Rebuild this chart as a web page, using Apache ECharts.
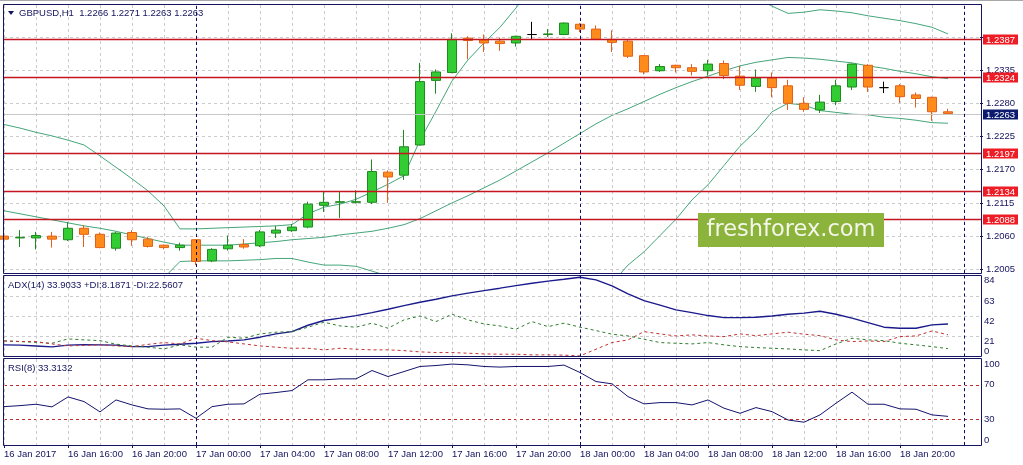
<!DOCTYPE html>
<html>
<head>
<meta charset="utf-8">
<title>GBPUSD,H1</title>
<script src="https://cdn.jsdelivr.net/npm/echarts@6/dist/echarts.min.js"></script>
<style>
html, body { margin: 0; padding: 0; background: #fff; }
#main { width: 1023px; height: 465px; }
</style>
</head>
<body>
<div id="main"></div>
<script>
// GBPUSD H1 bars, 16 Jan 2017 12:00 .. 18 Jan 2017 23:00
var opens = [
  1.2060, 1.2057, 1.2057, 1.2060, 1.2054, 1.2073, 1.2063, 1.2040, 1.2066, 1.2055,
  1.2045, 1.2041, 1.2054, 1.2019, 1.2039, 1.2046, 1.2044, 1.2065, 1.2069, 1.2075,
  1.2111, 1.2116, 1.2116, 1.2116, 1.2166, 1.2161, 1.2211, 1.2318, 1.2331, 1.2388,
  1.2385, 1.2383, 1.2380, 1.2394, 1.2394, 1.2394, 1.2411, 1.2403, 1.2386, 1.2383,
  1.2359, 1.2334, 1.2343, 1.2339, 1.2334, 1.2346, 1.2325, 1.2308, 1.2322, 1.2309,
  1.2280, 1.2269, 1.2283, 1.2307, 1.2343, 1.2306, 1.2309, 1.2294, 1.2290, 1.2266
];
var closes = [
  1.2055, 1.2058, 1.2061, 1.2055, 1.2073, 1.2063, 1.2041, 1.2065, 1.2054, 1.2043,
  1.2041, 1.2045, 1.2018, 1.2038, 1.2045, 1.2042, 1.2067, 1.2070, 1.2075, 1.2113,
  1.2116, 1.2117, 1.2117, 1.2167, 1.2158, 1.2208, 1.2316, 1.2332, 1.2386, 1.2384,
  1.2380, 1.2379, 1.2391, 1.2394, 1.2395, 1.2413, 1.2403, 1.2386, 1.2381, 1.2358,
  1.2332, 1.2341, 1.2339, 1.2333, 1.2345, 1.2326, 1.2310, 1.2322, 1.2306, 1.2280,
  1.2270, 1.2282, 1.2309, 1.2345, 1.2307, 1.2306, 1.2291, 1.2288, 1.2266, 1.2263
];
var lows = [
  1.2035, 1.2042, 1.2038, 1.2041, 1.2052, 1.2042, 1.2040, 1.2036, 1.2044, 1.2041,
  1.2038, 1.2036, 1.2012, 1.2017, 1.2036, 1.2039, 1.2042, 1.2057, 1.2067, 1.2073,
  1.2100, 1.2090, 1.2114, 1.2113, 1.2115, 1.2153, 1.2210, 1.2296, 1.2330, 1.2353,
  1.2365, 1.2367, 1.2374, 1.2386, 1.2390, 1.2393, 1.2398, 1.2385, 1.2365, 1.2355,
  1.2328, 1.2332, 1.2331, 1.2326, 1.2326, 1.2320, 1.2302, 1.2299, 1.2290, 1.2269,
  1.2266, 1.2264, 1.2277, 1.2302, 1.2299, 1.2297, 1.2281, 1.2273, 1.2251, 1.2263
];
var highs = [
  1.2063, 1.2070, 1.2067, 1.2067, 1.2083, 1.2078, 1.2066, 1.2067, 1.2070, 1.2059,
  1.2046, 1.2049, 1.2055, 1.2040, 1.2061, 1.2055, 1.2070, 1.2077, 1.2080, 1.2117,
  1.2134, 1.2134, 1.2136, 1.2187, 1.2169, 1.2236, 1.2347, 1.2336, 1.2396, 1.2391,
  1.2394, 1.2389, 1.2392, 1.2415, 1.2403, 1.2414, 1.2413, 1.2409, 1.2401, 1.2386,
  1.2360, 1.2345, 1.2344, 1.2345, 1.2352, 1.2351, 1.2342, 1.2336, 1.2331, 1.2319,
  1.2290, 1.2294, 1.2319, 1.2346, 1.2345, 1.2316, 1.2312, 1.2298, 1.2291, 1.2271
];

// Bollinger bands
var bbUpper = [
  1.2245, 1.2239, 1.2232, 1.2226, 1.2219, 1.2211, 1.2193, 1.2174, 1.2155, 1.2135,
  1.2110, 1.2072, 1.2072, 1.2073, 1.2074, 1.2075, 1.2076, 1.2077, 1.2079, 1.2097,
  1.2108, 1.2113, 1.2121, 1.2133, 1.2146, 1.2160, 1.2219, 1.2267, 1.2317, 1.2352,
  1.2380, 1.2406, 1.2438, 1.2471, 1.2493, 1.2506, 1.2514, 1.2517, 1.2517, 1.2516,
  1.2512, 1.2507, 1.2502, 1.2496, 1.2488, 1.2478, 1.2468, 1.2454, 1.2441, 1.2429,
  1.2431, 1.2435, 1.2433, 1.2430, 1.2425, 1.2421, 1.2417, 1.2412, 1.2406, 1.2395
];
var bbMiddle = [
  1.2102, 1.2097, 1.2092, 1.2087, 1.2082, 1.2077, 1.2073, 1.2068, 1.2062, 1.2056,
  1.2050, 1.2045, 1.2045, 1.2045, 1.2045, 1.2047, 1.2049, 1.2051, 1.2054, 1.2056,
  1.2058, 1.2062, 1.2065, 1.2068, 1.2073, 1.2079, 1.2089, 1.2102, 1.2115, 1.2127,
  1.2140, 1.2153, 1.2168, 1.2183, 1.2198, 1.2214, 1.2230, 1.2246, 1.2260, 1.2271,
  1.2283, 1.2295, 1.2306, 1.2316, 1.2325, 1.2334, 1.2342, 1.2348, 1.2352, 1.2356,
  1.2355, 1.2353, 1.2350, 1.2347, 1.2342, 1.2338, 1.2333, 1.2329, 1.2324, 1.2321
];
var bbLower = [
  1.1959, 1.1954, 1.1951, 1.1947, 1.1944, 1.1942, 1.1952, 1.1961, 1.1969, 1.1977,
  1.1991, 1.2018, 1.2019, 1.2019, 1.2019, 1.2020, 1.2021, 1.2023, 1.2023, 1.2017,
  1.2012, 1.2012, 1.2010, 1.2002, 1.1994, 1.1987, 1.1959, 1.1936, 1.1913, 1.1903,
  1.1899, 1.1899, 1.1898, 1.1894, 1.1903, 1.1923, 1.1946, 1.1962, 1.1982, 1.2012,
  1.2034, 1.2061, 1.2088, 1.2120, 1.2145, 1.2177, 1.2209, 1.2234, 1.2266, 1.2280,
  1.2277, 1.2268, 1.2265, 1.2262, 1.2261, 1.2257, 1.2255, 1.2252, 1.2248, 1.2247
];

// ADX(14)
var adx = [
  12.1, 11.8, 11.0, 10.0, 11.8, 12.4, 12.1, 11.8, 10.3, 10.3,
  11.8, 12.8, 13.8, 15.5, 16.2, 17.3, 20.1, 23.5, 25.9, 32.5,
  37.5, 39.9, 42.6, 45.7, 49.2, 53.0, 56.5, 59.6, 63.1, 65.9,
  68.6, 71.1, 73.8, 76.3, 78.4, 80.4, 82.5, 79.7, 73.5, 65.1,
  58.2, 53.4, 48.5, 45.7, 42.6, 40.5, 40.5, 40.9, 42.2, 44.0,
  45.1, 47.1, 44.0, 39.9, 35.3, 30.5, 29.4, 29.4, 32.9, 33.9
];
var plusDI = [
  16.2, 15.5, 14.7, 13.8, 18.3, 17.3, 16.5, 12.8, 11.0, 9.7,
  7.9, 12.1, 9.7, 9.7, 20.1, 19.0, 23.5, 25.3, 25.9, 30.5,
  35.7, 31.8, 30.5, 34.7, 29.4, 38.1, 42.2, 36.3, 44.0, 38.1,
  33.9, 31.8, 28.4, 36.3, 31.1, 34.7, 30.5, 27.0, 23.2, 21.4,
  18.0, 14.5, 13.8, 13.1, 14.5, 12.1, 10.3, 9.3, 8.6, 7.9,
  6.9, 6.1, 13.1, 19.0, 17.3, 16.5, 13.8, 12.1, 10.3, 8.2
];
var minusDI = [
  16.2, 15.7, 15.5, 13.1, 11.0, 11.6, 12.1, 11.0, 10.3, 12.6,
  14.5, 13.1, 19.0, 16.5, 15.2, 13.1, 11.0, 9.7, 8.6, 8.6,
  6.9, 8.6, 7.6, 6.9, 6.9, 6.1, 4.8, 4.1, 4.1, 3.4,
  2.7, 2.4, 2.4, 1.7, 1.7, 1.4, 0.6, 7.6, 14.5, 17.3,
  25.9, 23.5, 21.4, 22.5, 21.4, 20.7, 23.5, 21.7, 23.5, 25.3,
  23.2, 21.7, 17.3, 15.5, 16.2, 15.5, 20.7, 21.4, 26.6, 22.6
];

// RSI(8)
var rsi = [
  44.6, 45.8, 47.4, 44.3, 55.9, 50.5, 38.5, 52.4, 46.6, 42.0,
  41.6, 42.0, 31.1, 44.6, 47.4, 47.8, 59.1, 61.0, 63.3, 75.8,
  75.8, 76.9, 76.9, 86.6, 79.6, 85.4, 91.3, 92.4, 94.1, 93.2,
  91.3, 90.6, 91.3, 91.3, 91.3, 92.9, 84.3, 73.8, 71.1, 56.3,
  47.8, 49.3, 49.3, 46.6, 52.4, 42.8, 36.9, 43.5, 38.8, 29.1,
  26.5, 35.0, 48.6, 61.4, 47.4, 47.4, 42.0, 41.6, 35.0, 33.3
];

var levels = [1.2387, 1.2324, 1.2197, 1.2134, 1.2088];
var bid = 1.2263;
var priceTicks = [1.2005, 1.2060, 1.2115, 1.2170, 1.2225, 1.2280, 1.2335, 1.2390];
var priceLabels = [1.2005, 1.2060, 1.2115, 1.2170, 1.2225, 1.2280, 1.2335];
var adxLabels = [0, 21, 42, 63, 84];
var rsiLabels = [0, 30, 70, 100];
var rsiLevels = [30, 70];
var timeLabels = [
  '16 Jan 2017', '16 Jan 16:00', '16 Jan 20:00', '17 Jan 00:00', '17 Jan 04:00',
  '17 Jan 08:00', '17 Jan 12:00', '17 Jan 16:00', '17 Jan 20:00', '18 Jan 00:00',
  '18 Jan 04:00', '18 Jan 08:00', '18 Jan 12:00', '18 Jan 16:00', '18 Jan 20:00'
];
var separators = ['17 Jan 00:00', '18 Jan 00:00', '19 Jan 00:00'];

// one slot per hour, plus two empty slots on the right
var categories = [];
for (var i = 0; i < 62; i++) {
  var h = 12 + i;
  var d = 16 + Math.floor(h / 24);
  h = h % 24;
  categories.push(d + ' Jan ' + (h < 10 ? '0' : '') + h + ':00');
}

var NAVY = '#14145f';
var FONT = '"Liberation Sans", Arial, sans-serif';
var GRIDC = '#cbcbcb';
var LEVEL_RED = '#c4161e';

var candles = opens.map(function (o, i) {
  return [o, closes[i], lows[i], highs[i]];
});

// [x slot, price, kind] kind 0 = level line, 1 = bid line
var hlines = levels.map(function (v) { return [0, v, 0]; });
hlines.push([0, bid, 1]);

function xAxisFor(gi, withLabels) {
  return {
    type: 'category',
    gridIndex: gi,
    data: categories,
    boundaryGap: false,
    axisLine: { show: false },
    axisTick: {
      show: withLabels,
      length: 3,
      interval: function (i) { return i % 4 === 0 && i <= 56; },
      lineStyle: { color: NAVY }
    },
    axisLabel: {
      show: withLabels,
      interval: function (i) { return i % 4 === 0 && i <= 56; },
      formatter: function (v, i) { return timeLabels[i / 4] || ''; },
      align: 'left',
      margin: 4,
      color: NAVY,
      fontSize: 9.5,
      fontFamily: FONT
    },
    splitLine: {
      show: true,
      interval: function (i) { return i % 2 === 0; },
      lineStyle: { color: GRIDC, type: [3, 3], width: 1 }
    }
  };
}

function sepLine() {
  return {
    symbol: 'none',
    silent: true,
    animation: false,
    label: { show: false },
    lineStyle: { color: '#0a0a70', type: [3, 3], width: 1 },
    data: separators.map(function (s) { return { xAxis: s }; })
  };
}

function renderLevel(params, api) {
  var cs = params.coordSys;
  var y = Math.round(api.coord([0, api.value(1)])[1]) + 0.5;
  var isBid = api.value(2) === 1;
  var right = cs.x + cs.width;
  return {
    type: 'group',
    children: [
      {
        type: 'line',
        shape: { x1: cs.x - 1, y1: y, x2: right + 2, y2: y },
        style: { stroke: isBid ? '#c8c8c8' : LEVEL_RED, lineWidth: isBid ? 1 : 1.6 }
      },
      {
        type: 'rect',
        shape: { x: right + 3, y: y - 5, width: 35, height: 10 },
        style: { fill: isBid ? '#0c1b6e' : '#ee1c24' }
      },
      {
        type: 'text',
        x: right + 6, y: y + 0.5,
        style: {
          text: api.value(1).toFixed(4),
          fill: '#ffffff',
          font: '9.5px ' + FONT,
          verticalAlign: 'middle'
        }
      }
    ]
  };
}

var myChart = echarts.init(document.getElementById('main'), null, { renderer: 'canvas' });

var option = {
  animation: false,
  backgroundColor: '#ffffff',
  grid: [
    { left: 4, top: 5, width: 976, height: 268, containLabel: false, outerBoundsMode: 'none' },
    { left: 4, top: 275.5, width: 976, height: 81, containLabel: false, outerBoundsMode: 'none' },
    { left: 4, top: 359, width: 976, height: 86, containLabel: false, outerBoundsMode: 'none' }
  ],
  xAxis: [xAxisFor(0, false), xAxisFor(1, false), xAxisFor(2, true)],
  yAxis: [
    {
      type: 'value', gridIndex: 0, position: 'right',
      min: 1.19989, max: 1.24429,
      axisLine: { show: false },
      axisTick: { show: true, length: 3, customValues: priceTicks, lineStyle: { color: NAVY } },
      axisLabel: {
        customValues: priceLabels,
        formatter: function (v) { return v.toFixed(4); },
        color: NAVY, fontSize: 9.5, fontFamily: FONT, margin: 6
      },
      splitLine: { show: true, lineStyle: { color: GRIDC, type: [3, 3], width: 1 } }
    },
    {
      type: 'value', gridIndex: 1, position: 'right',
      min: 0, max: 84.3,
      axisLine: { show: false },
      axisTick: { show: false, customValues: [21, 42, 63] },
      axisLabel: {
        customValues: adxLabels,
        verticalAlign: 'top',
        verticalAlignMinLabel: 'bottom',
        color: NAVY, fontSize: 9.5, fontFamily: FONT, margin: 4
      },
      splitLine: { show: true, lineStyle: { color: GRIDC, type: [3, 3], width: 1 } }
    },
    {
      type: 'value', gridIndex: 2, position: 'right',
      min: 0, max: 100,
      axisLine: { show: false },
      axisTick: { show: false, customValues: rsiLevels },
      axisLabel: {
        customValues: rsiLabels,
        verticalAlignMinLabel: 'bottom',
        verticalAlignMaxLabel: 'top',
        color: NAVY, fontSize: 9.5, fontFamily: FONT, margin: 4
      },
      splitLine: { show: true, lineStyle: { color: '#c0282d', type: [3, 3], width: 1 } }
    }
  ],
  series: [
    {
      name: 'BB upper', type: 'line', xAxisIndex: 0, yAxisIndex: 0,
      data: bbUpper, symbol: 'none', silent: true,
      lineStyle: { color: '#45a679', width: 1 }
    },
    {
      name: 'BB middle', type: 'line', xAxisIndex: 0, yAxisIndex: 0,
      data: bbMiddle, symbol: 'none', silent: true,
      lineStyle: { color: '#45a679', width: 1 },
      markLine: sepLine()
    },
    {
      name: 'BB lower', type: 'line', xAxisIndex: 0, yAxisIndex: 0,
      data: bbLower, symbol: 'none', silent: true,
      lineStyle: { color: '#45a679', width: 1 }
    },
    {
      name: 'GBPUSD', type: 'candlestick', xAxisIndex: 0, yAxisIndex: 0,
      data: candles,
      barWidth: 10,
      silent: true,
      z: 3,
      itemStyle: {
        color: '#32cd32', color0: '#ff8c1a',
        borderColor: '#1f8a1f', borderColor0: '#e2611a',
        borderColorDoji: '#000000',
        borderWidth: 1
      }
    },
    {
      name: 'Levels', type: 'custom', xAxisIndex: 0, yAxisIndex: 0,
      data: hlines,
      encode: { x: 0, y: 1 },
      renderItem: renderLevel,
      silent: true,
      z: 4
    },
    {
      name: 'ADX', type: 'line', xAxisIndex: 1, yAxisIndex: 1,
      data: adx, symbol: 'none', silent: true,
      lineStyle: { color: '#1a1a8c', width: 1.4 },
      markLine: sepLine()
    },
    {
      name: '+DI', type: 'line', xAxisIndex: 1, yAxisIndex: 1,
      data: plusDI, symbol: 'none', silent: true,
      lineStyle: { color: '#2f7d2f', width: 1, type: [3, 3] }
    },
    {
      name: '-DI', type: 'line', xAxisIndex: 1, yAxisIndex: 1,
      data: minusDI, symbol: 'none', silent: true,
      lineStyle: { color: '#c43232', width: 1, type: [3, 3] }
    },
    {
      name: 'RSI', type: 'line', xAxisIndex: 2, yAxisIndex: 2,
      data: rsi, symbol: 'none', silent: true,
      lineStyle: { color: '#14146e', width: 1 },
      markLine: sepLine()
    }
  ],
  graphic: [
    { type: 'line', shape: { x1: 0, y1: 0.5, x2: 1023, y2: 0.5 }, style: { stroke: '#a8a8a8', lineWidth: 1 }, silent: true },
    // panel frames
    { type: 'rect', z: 100, silent: true, shape: { x: 3.5, y: 4.5, width: 978, height: 269 }, style: { fill: null, stroke: NAVY, lineWidth: 1 } },
    { type: 'rect', z: 100, silent: true, shape: { x: 3.5, y: 275.5, width: 978, height: 81 }, style: { fill: null, stroke: NAVY, lineWidth: 1 } },
    { type: 'rect', z: 100, silent: true, shape: { x: 3.5, y: 358.5, width: 978, height: 87 }, style: { fill: null, stroke: NAVY, lineWidth: 1 } },
    // header of the main window
    { type: 'polygon', z: 100, silent: true, shape: { points: [[8, 11], [14, 11], [11, 15]] }, style: { fill: NAVY } },
    {
      type: 'text', z: 100, silent: true, x: 19, y: 13,
      style: {
        text: 'GBPUSD,H1  ' + [opens[59], highs[59], lows[59], closes[59]].map(function (v) { return v.toFixed(4); }).join(' '),
        fill: NAVY, font: '9.5px ' + FONT, verticalAlign: 'middle'
      }
    },
    {
      type: 'text', z: 100, silent: true, x: 8, y: 285,
      style: { text: 'ADX(14) 33.9033 +DI:8.1871 -DI:22.5607', fill: NAVY, font: '9.5px ' + FONT, verticalAlign: 'middle' }
    },
    {
      type: 'text', z: 100, silent: true, x: 8, y: 368,
      style: { text: 'RSI(8) 33.3132', fill: NAVY, font: '9.5px ' + FONT, verticalAlign: 'middle' }
    },
    // broker mark
    { type: 'rect', z: 90, silent: true, shape: { x: 698, y: 213, width: 186, height: 34 }, style: { fill: '#8cb43c' } },
    {
      type: 'text', z: 91, silent: true, x: 791, y: 230,
      style: { text: 'freshforex.com', fill: '#f4f6ea', font: '22.5px "DejaVu Sans", sans-serif', align: 'center', verticalAlign: 'middle' }
    }
  ]
};

myChart.setOption(option);
window.onresize = myChart.resize;
</script>
</body>
</html>
